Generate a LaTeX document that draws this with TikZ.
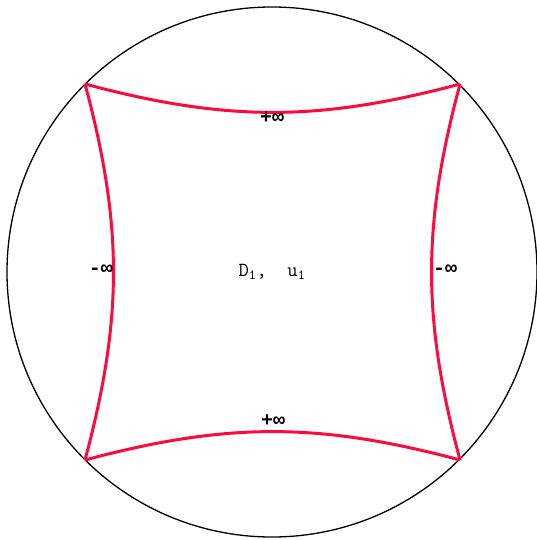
\documentclass[tikz,border=0pt]{standalone}
\usepackage{fontspec}
\newfontfamily\symmono{Liberation Mono}
\usepackage{xcolor}
\usepackage{tikz}
\usetikzlibrary{calc}
\definecolor{geored}{RGB}{255,10,60}
\tikzset{
	geoarc/.style={line width=3pt, geored},
	inflabel/.style={font=\symmono\bfseries\fontsize{20}{20}\selectfont, inner sep=0pt},
	domlabel/.style={font=\ttfamily\fontsize{20}{20}\selectfont, inner sep=0pt}
}

\begin{document}
\begin{tikzpicture}[x=1pt, y=-1pt]
		\useasboundingbox (0,0) rectangle (537,540);
		\coordinate (O) at (272,272);
		\coordinate (A) at (85,84);
		\coordinate (B) at (460,84);
		\coordinate (C) at (460,460);
		\coordinate (D) at (85,460);
		\draw[line width=1.3pt] (O) circle (265);
		\draw[geoarc] (A) to[bend right=15] (B);
		\draw[geoarc] (B) to[bend right=15] (C);
		\draw[geoarc] (C) to[bend right=15] (D);
		\draw[geoarc] (D) to[bend right=15] (A);
		\node[inflabel] (top) at (272,118) {+∞};
		\node[inflabel] (bot) at (273,421) {+∞};
		\node[inflabel] (lft) at (101,270) {-∞};
		\node[inflabel] (rgt) at (445,270) {-∞};
		\node[domlabel] (dom) at (272,272) {D\textsubscript{1},\ \ u\textsubscript{1}};
	\end{tikzpicture}
\end{document}
